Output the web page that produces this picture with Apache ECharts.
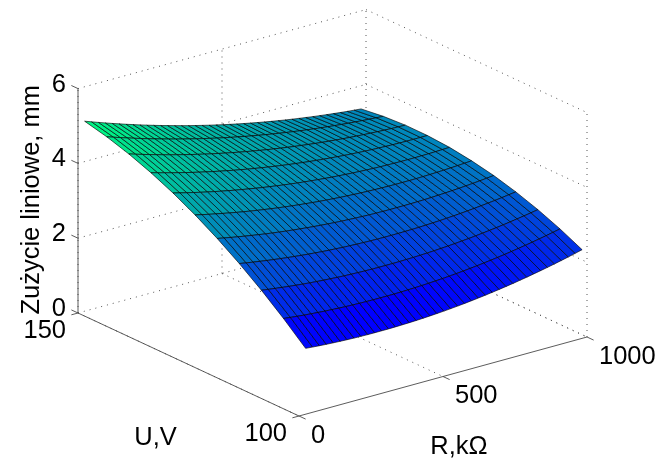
<!DOCTYPE html>
<html>
<head>
<meta charset="utf-8">
<style>html,body{margin:0;padding:0;background:#fff}#c{width:669px;height:459px}</style>
<script src="https://cdn.jsdelivr.net/npm/echarts@6/dist/echarts.min.js"></script>
</head>
<body>
<div id="c"></div>
<script>
// ---- data ----
const R_values = [23,47,71,95,119,143,167,191,215,239,263,287,311,335,359,383,407,431,455,479,503,527,551,575,599,623,647,671,695,719,743,767,791,815,839,863,887,911,935,959,983];
const U_values = [100,105,110,115,120,125,130,135,140,145,150];
const wear_U100 = [1.760,1.744,1.729,1.716,1.705,1.695,1.687,1.680,1.676,1.672,1.671,1.671,1.672,1.675,1.680,1.686,1.694,1.704,1.715,1.728,1.742,1.758,1.776,1.795,1.816,1.839,1.863,1.889,1.916,1.945,1.975,2.008,2.041,2.077,2.114,2.152,2.193,2.234,2.278,2.323,2.370];
const wear_U105 = [2.283,2.261,2.241,2.223,2.206,2.191,2.177,2.165,2.154,2.145,2.138,2.132,2.128,2.125,2.124,2.124,2.126,2.130,2.135,2.142,2.150,2.160,2.172,2.185,2.200,2.216,2.234,2.253,2.274,2.297,2.321,2.347,2.374,2.403,2.434,2.466,2.499,2.535,2.572,2.610,2.650];
const wear_U110 = [2.763,2.736,2.711,2.687,2.664,2.644,2.624,2.606,2.590,2.576,2.563,2.551,2.541,2.533,2.526,2.521,2.517,2.515,2.514,2.515,2.517,2.521,2.527,2.533,2.542,2.552,2.564,2.577,2.592,2.609,2.626,2.646,2.667,2.689,2.713,2.739,2.766,2.795,2.825,2.857,2.890];
const wear_U115 = [3.201,3.169,3.138,3.109,3.081,3.055,3.030,3.007,2.985,2.965,2.946,2.929,2.913,2.899,2.887,2.875,2.866,2.858,2.851,2.846,2.843,2.841,2.840,2.841,2.844,2.848,2.853,2.860,2.869,2.879,2.891,2.904,2.919,2.935,2.953,2.973,2.993,3.015,3.039,3.064,3.090];
const wear_U120 = [3.597,3.559,3.523,3.489,3.456,3.424,3.394,3.365,3.338,3.313,3.288,3.266,3.244,3.225,3.206,3.190,3.174,3.160,3.148,3.137,3.128,3.120,3.113,3.109,3.105,3.103,3.103,3.104,3.106,3.110,3.115,3.122,3.131,3.141,3.152,3.165,3.179,3.195,3.212,3.231,3.252];
const wear_U125 = [3.950,3.907,3.866,3.826,3.788,3.751,3.715,3.681,3.648,3.617,3.588,3.559,3.532,3.507,3.483,3.461,3.440,3.420,3.402,3.385,3.370,3.356,3.344,3.333,3.324,3.316,3.309,3.304,3.300,3.298,3.298,3.298,3.300,3.304,3.309,3.316,3.324,3.333,3.344,3.356,3.370];
const wear_U130 = [4.261,4.213,4.167,4.122,4.078,4.036,3.995,3.956,3.918,3.881,3.847,3.813,3.781,3.750,3.721,3.693,3.666,3.641,3.617,3.595,3.574,3.555,3.537,3.520,3.505,3.491,3.479,3.468,3.458,3.450,3.443,3.438,3.434,3.432,3.431,3.431,3.433,3.436,3.441,3.447,3.454];
const wear_U135 = [4.529,4.476,4.425,4.375,4.326,4.279,4.233,4.188,4.145,4.103,4.063,4.024,3.986,3.950,3.915,3.882,3.850,3.819,3.790,3.762,3.735,3.710,3.686,3.664,3.643,3.623,3.605,3.588,3.573,3.559,3.546,3.535,3.525,3.517,3.509,3.504,3.499,3.496,3.495,3.495,3.495];
const wear_U140 = [4.755,4.697,4.641,4.586,4.532,4.479,4.428,4.379,4.330,4.283,4.238,4.193,4.150,4.109,4.069,4.030,3.992,3.956,3.921,3.888,3.855,3.825,3.795,3.767,3.740,3.715,3.691,3.668,3.647,3.627,3.608,3.591,3.575,3.561,3.548,3.536,3.525,3.516,3.508,3.502,3.497];
const wear_U145 = [4.939,4.876,4.815,4.755,4.696,4.638,4.582,4.527,4.474,4.422,4.371,4.321,4.273,4.226,4.180,4.136,4.093,4.051,4.011,3.972,3.934,3.898,3.863,3.829,3.797,3.766,3.736,3.708,3.680,3.655,3.630,3.607,3.585,3.565,3.545,3.527,3.511,3.496,3.482,3.469,3.458];
const wear_U150 = [5.080,5.012,4.946,4.881,4.817,4.755,4.694,4.634,4.575,4.518,4.462,4.407,4.354,4.302,4.251,4.201,4.153,4.106,4.060,4.016,3.973,3.931,3.890,3.851,3.813,3.776,3.741,3.707,3.674,3.642,3.612,3.583,3.556,3.529,3.504,3.480,3.458,3.436,3.416,3.398,3.380];
const R_ticks = [0,500,1000];
const U_ticks = [100,150];
const Z_ticks = [0,2,4,6];
const R_label = 'R,kΩ';
const U_label = 'U,V';
const Z_label = 'Zużycie liniowe, mm';

// ---- build ----
const wear = [wear_U100,wear_U105,wear_U110,wear_U115,wear_U120,wear_U125,wear_U130,wear_U135,wear_U140,wear_U145,wear_U150];
const Rmin=0,Rmax=1000,Umin=100,Umax=150,Zmin=0,Zmax=6;
const allZ = wear.flat();
const zLo = Math.min(...allZ), zHi = Math.max(...allZ);

// oblique view of the 3D box, expressed in the hidden 2D axes
function project(R,U,z){
  return [299 + 0.288*R - 4.42*(U-100), 416 - 0.079*R - 2.06*(U-100) - 37.4*z];
}
function winter(z){
  const c=(z-zLo)/(zHi-zLo);
  return 'rgb(0,'+Math.round(255*c)+','+Math.round(255*(1-c/2))+')';
}
const cells=[];
for(let j=U_values.length-2;j>=0;j--){
  for(let i=0;i<R_values.length-1;i++){ cells.push([i,j]); }
}
const surfaceSeries={
  type:'custom',coordinateSystem:'cartesian2d',silent:true,z:5,clip:false,
  data:cells,encode:{x:0,y:1},
  renderItem(params,api){
    const i=api.value(0),j=api.value(1);
    const pts=[[i,j],[i+1,j],[i+1,j+1],[i,j+1]].map(([a,b])=>api.coord(project(R_values[a],U_values[b],wear[b][a])));
    return {type:'polygon',shape:{points:pts},style:{fill:winter(wear[j][i]),stroke:'rgba(0,0,0,0.8)',lineWidth:0.8}};
  }
};

const solid={stroke:'#4a4a4a',lineWidth:0.9};
const dotted={stroke:'#555',lineWidth:1,lineDash:[1,5]};
const segs=[];
function seg(a,b,st){segs.push({a,b,st});}
// walls and floor grid
Z_ticks.forEach(z=>{
  seg([Rmin,Umax,z],[Rmax,Umax,z],dotted);
  seg([Rmax,Umax,z],[Rmax,Umin,z],dotted);
});
R_ticks.forEach(r=>{
  seg([r,Umax,Zmin],[r,Umax,Zmax],dotted);
  seg([r,Umax,Zmin],[r,Umin,Zmin],dotted);
});
seg([Rmax,Umin,Zmin],[Rmax,Umin,Zmax],dotted);
// axes
seg([Rmin,Umax,Zmin],[Rmin,Umax,Zmax],solid);
seg([Rmin,Umax,Zmin],[Rmin,Umin,Zmin],solid);
seg([Rmin,Umin,Zmin],[Rmax,Umin,Zmin],solid);
// ticks
Z_ticks.forEach(z=>seg([Rmin,Umax,z],[Rmin,Umax+1.5,z],solid));
U_ticks.forEach(u=>seg([Rmin,u,Zmin],[Rmin-23,u,Zmin],solid));
R_ticks.forEach(r=>seg([r,Umin,Zmin],[r,Umin-1.5,Zmin],solid));
const lineSeries={
  type:'custom',coordinateSystem:'cartesian2d',silent:true,z:2,clip:false,
  data:segs.map((s,i)=>[i,0]),encode:{x:0,y:1},
  renderItem(params,api){
    const s=segs[api.value(0)];
    const p=api.coord(project(...s.a)),q=api.coord(project(...s.b));
    return {type:'line',shape:{x1:p[0],y1:p[1],x2:q[0],y2:q[1]},style:Object.assign({fill:null},s.st)};
  }
};

const font={fontFamily:'"Liberation Sans",Arial,sans-serif',fontSize:25.5,fill:'#000'};
const labels=[];
Z_ticks.forEach(z=>labels.push({text:String(z),at:[Rmin,Umax,z],dx:-12,dy:-4,align:'right'}));
labels.push({text:'150',at:[Rmin,150,Zmin],dx:-12,dy:18,align:'right'});
labels.push({text:'100',at:[Rmin,100,Zmin],dx:-12,dy:18,align:'right'});
R_ticks.forEach(r=>labels.push({text:String(r),at:[r,Umin,Zmin],dx:12,dy:19.5,align:'left'}));
labels.push({text:U_label,at:[Rmin,125,Zmin],dx:-33,dy:73,align:'center'});
labels.push({text:R_label,at:[500,Umin,Zmin],dx:16,dy:70.5,align:'center'});
labels.push({text:Z_label,at:[Rmin,Umax,3],dx:-46,dy:-1,align:'center',rot:Math.PI/2});
const textSeries={
  type:'custom',coordinateSystem:'cartesian2d',silent:true,z:6,clip:false,
  data:labels.map((s,i)=>[i,0]),encode:{x:0,y:1},
  renderItem(params,api){
    const l=labels[api.value(0)];
    const p=api.coord(project(...l.at));
    return {type:'text',x:p[0]+l.dx,y:p[1]+l.dy,rotation:l.rot||0,
      style:Object.assign({text:l.text,align:l.align,verticalAlign:'middle'},font)};
  }
};

const chart=echarts.init(document.getElementById('c'),null,{renderer:'canvas'});
chart.setOption({
  animation:false,backgroundColor:'#fff',
  grid:{left:0,right:0,top:0,bottom:0},
  xAxis:{type:'value',min:0,max:669,show:false},
  yAxis:{type:'value',min:0,max:459,inverse:true,show:false},
  tooltip:{show:false},
  series:[lineSeries,surfaceSeries,textSeries]
});
</script>
</body>
</html>
